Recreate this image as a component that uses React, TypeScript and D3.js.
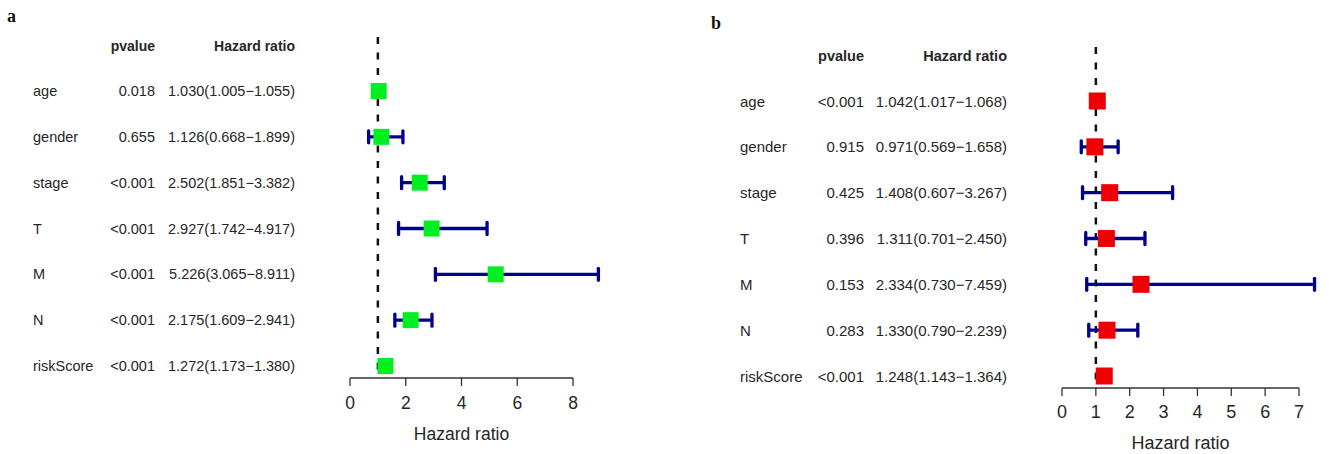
import React from "react";
import * as d3 from "d3";

// ---- Data ----
const variables = ["age", "gender", "stage", "T", "M", "N", "riskScore"];

// Panel a (green)
const pvalueA = ["0.018", "0.655", "<0.001", "<0.001", "<0.001", "<0.001", "<0.001"];
const hrA = [1.030, 1.126, 2.502, 2.927, 5.226, 2.175, 1.272];
const lowA = [1.005, 0.668, 1.851, 1.742, 3.065, 1.609, 1.173];
const highA = [1.055, 1.899, 3.382, 4.917, 8.911, 2.941, 1.380];
const ticksA = [0, 2, 4, 6, 8];

// Panel b (red)
const pvalueB = ["<0.001", "0.915", "0.425", "0.396", "0.153", "0.283", "<0.001"];
const hrB = [1.042, 0.971, 1.408, 1.311, 2.334, 1.330, 1.248];
const lowB = [1.017, 0.569, 0.607, 0.701, 0.730, 0.790, 1.143];
const highB = [1.068, 1.658, 3.267, 2.450, 7.459, 2.239, 1.364];
const ticksB = [0, 1, 2, 3, 4, 5, 6, 7];

const FONT = "'Liberation Sans', Arial, sans-serif";
const TXT = "#262626";
const WHISKER = "#00008B";

type PanelProps = {
  letter: string;
  letterX: number;
  letterY: number;
  pvals: string[];
  hr: number[];
  low: number[];
  high: number[];
  ticks: number[];
  boxColor: string;
  x0: number;
  x1: number;
  rowTop: number;
  rowBottom: number;
  headerY: number;
  labelX: number;
  pvalX: number;
  hrX: number;
  axisY: number;
  dashTop: number;
  tickLabelY: number;
  titleY: number;
  boxSize: number;
  textSize: number;
  axisFont: number;
};

function Panel(p: PanelProps) {
  const maxTick = p.ticks[p.ticks.length - 1];
  const x = d3.scaleLinear().domain([0, maxTick]).range([p.x0, p.x1]);
  const y = d3.scaleLinear().domain([0, variables.length - 1]).range([p.rowTop, p.rowBottom]);
  const fmt = d3.format(".3f");
  const capH = 12;
  return (
    <g>
      <text x={p.letterX} y={p.letterY} fontFamily="'Liberation Serif', 'Times New Roman', serif" fontWeight="bold" fontSize={18} fill="#111">
        {p.letter}
      </text>
      {/* headers */}
      <text x={p.pvalX} y={p.headerY} textAnchor="end" dominantBaseline="central" fontFamily={FONT} fontWeight="bold" fontSize={p.textSize - 0.5} fill={TXT}>
        pvalue
      </text>
      <text x={p.hrX} y={p.headerY} textAnchor="end" dominantBaseline="central" fontFamily={FONT} fontWeight="bold" fontSize={p.textSize - 0.5} fill={TXT}>
        Hazard ratio
      </text>
      {variables.map((v, i) => (
        <g key={v}>
          <text x={p.labelX} y={y(i)} dominantBaseline="central" fontFamily={FONT} fontSize={p.textSize} fill={TXT}>
            {v}
          </text>
          <text x={p.pvalX} y={y(i)} textAnchor="end" dominantBaseline="central" fontFamily={FONT} fontSize={p.textSize} fill={TXT}>
            {p.pvals[i]}
          </text>
          <text x={p.hrX} y={y(i)} textAnchor="end" dominantBaseline="central" fontFamily={FONT} fontSize={p.textSize} fill={TXT}>
            {`${fmt(p.hr[i])}(${fmt(p.low[i])}\u2212${fmt(p.high[i])})`}
          </text>
        </g>
      ))}
      {/* reference line */}
      <line x1={x(1)} x2={x(1)} y1={p.dashTop} y2={p.axisY} stroke="#111" strokeWidth={2.5} strokeDasharray="7,8.5" />
      {/* whiskers and boxes */}
      {variables.map((v, i) => (
        <g key={"w" + v}>
          <line x1={x(p.low[i])} x2={x(p.high[i])} y1={y(i)} y2={y(i)} stroke={WHISKER} strokeWidth={3.3} />
          <line x1={x(p.low[i])} x2={x(p.low[i])} y1={y(i) - capH / 2} y2={y(i) + capH / 2} stroke={WHISKER} strokeWidth={3.3} strokeLinecap="round" />
          <line x1={x(p.high[i])} x2={x(p.high[i])} y1={y(i) - capH / 2} y2={y(i) + capH / 2} stroke={WHISKER} strokeWidth={3.3} strokeLinecap="round" />
          <rect x={x(p.hr[i]) - p.boxSize / 2} y={y(i) - p.boxSize / 2} width={p.boxSize} height={p.boxSize} fill={p.boxColor} />
        </g>
      ))}
      {/* axis */}
      <line x1={x(0)} x2={x(maxTick)} y1={p.axisY} y2={p.axisY} stroke="#333" strokeWidth={1.3} />
      {p.ticks.map((t) => (
        <g key={"t" + t}>
          <line x1={x(t)} x2={x(t)} y1={p.axisY} y2={p.axisY + 8} stroke="#333" strokeWidth={1.3} />
          <text x={x(t)} y={p.tickLabelY} textAnchor="middle" dominantBaseline="central" fontFamily={FONT} fontSize={p.axisFont} fill={TXT}>
            {t}
          </text>
        </g>
      ))}
      <text x={(x(0) + x(maxTick)) / 2} y={p.titleY} textAnchor="middle" dominantBaseline="central" fontFamily={FONT} fontSize={p.axisFont} fill={TXT}>
        Hazard ratio
      </text>
    </g>
  );
}

export default function App() {
  return (
    <svg width={1329} height={454} style={{ position: "absolute", left: 0, top: 0, background: "#fff" }}>
      <rect x={0} y={0} width={1329} height={454} fill="#fff" />
      <Panel
        letter="a" letterX={7} letterY={22}
        pvals={pvalueA} hr={hrA} low={lowA} high={highA} ticks={ticksA} boxColor="#00EE22"
        x0={350} x1={573} rowTop={91} rowBottom={366}
        headerY={46} labelX={33} pvalX={155} hrX={295}
        axisY={378} dashTop={37} tickLabelY={403} titleY={434}
        boxSize={16} textSize={14.5} axisFont={17.5}
      />
      <Panel
        letter="b" letterX={711} letterY={29}
        pvals={pvalueB} hr={hrB} low={lowB} high={highB} ticks={ticksB} boxColor="#EE0000"
        x0={1062} x1={1299} rowTop={101} rowBottom={376}
        headerY={56} labelX={740} pvalX={864} hrX={1007}
        axisY={388} dashTop={47} tickLabelY={412} titleY={443}
        boxSize={17} textSize={15} axisFont={18}
      />
    </svg>
  );
}
